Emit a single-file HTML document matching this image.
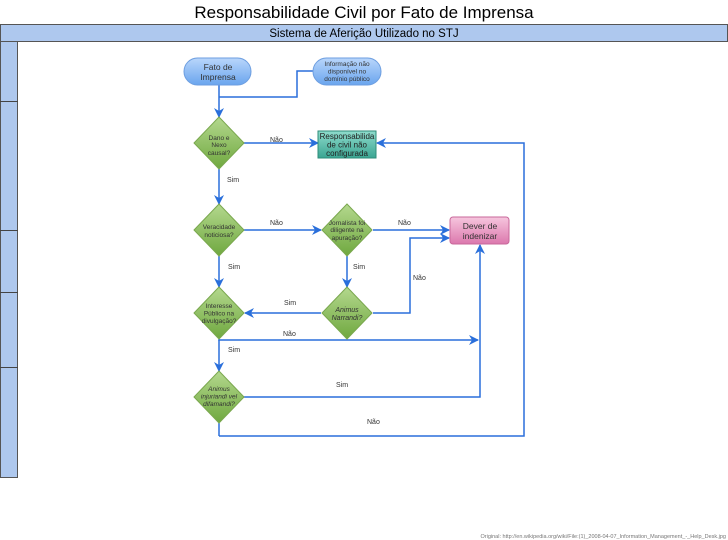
<!DOCTYPE html>
<html><head><meta charset="utf-8"><style>
html,body{margin:0;padding:0;background:#fff;}
svg{display:block;}
text{font-family:"Liberation Sans",sans-serif;}
</style></head><body>
<svg width="728" height="540" viewBox="0 0 728 540" xmlns="http://www.w3.org/2000/svg">
<defs>
<linearGradient id="gb" x1="0" y1="0" x2="0" y2="1"><stop offset="0" stop-color="#b9d6fb"/><stop offset="1" stop-color="#6aa5ee"/></linearGradient>
<linearGradient id="gg" x1="0" y1="0" x2="0" y2="1"><stop offset="0" stop-color="#b4d88e"/><stop offset="1" stop-color="#6fa83f"/></linearGradient>
<linearGradient id="gt" x1="0" y1="0" x2="0" y2="1"><stop offset="0" stop-color="#8fdccc"/><stop offset="1" stop-color="#3aa592"/></linearGradient>
<linearGradient id="gp" x1="0" y1="0" x2="0" y2="1"><stop offset="0" stop-color="#f6c6de"/><stop offset="1" stop-color="#dc78ad"/></linearGradient>
<marker id="ar" markerWidth="10" markerHeight="10" refX="9" refY="5" orient="auto" markerUnits="userSpaceOnUse"><path d="M0,0 L10,5 L0,10 L3,5 z" fill="#2a6fdb"/></marker>
</defs>
<text x="364" y="18" text-anchor="middle" font-size="17" fill="#000">Responsabilidade Civil por Fato de Imprensa</text>
<rect x="0.5" y="24.5" width="727" height="17" fill="#aec8ee" stroke="#555"/>
<text x="364" y="37" text-anchor="middle" font-size="11.5" fill="#000">Sistema de Aferição Utilizado no STJ</text>
<rect x="0.5" y="41.5" width="17" height="436" fill="#aec8ee" stroke="#555"/>
<g stroke="#444" stroke-width="1">
<line x1="0" y1="101.5" x2="18" y2="101.5"/><line x1="0" y1="230.5" x2="18" y2="230.5"/>
<line x1="0" y1="292.5" x2="18" y2="292.5"/><line x1="0" y1="367.5" x2="18" y2="367.5"/>
</g>
<g stroke="#2a6fdb" stroke-width="1.5" fill="none">
<line x1="219" y1="85" x2="219" y2="117" marker-end="url(#ar)"/>
<polyline points="313,71 297,71 297,97 219,97"/>
<line x1="243" y1="143" x2="318" y2="143" marker-end="url(#ar)"/>
<polyline points="219,436 524,436 524,143 377,143" marker-end="url(#ar)"/>
<line x1="219" y1="169" x2="219" y2="204" marker-end="url(#ar)"/>
<line x1="243" y1="230" x2="321" y2="230" marker-end="url(#ar)"/>
<line x1="373" y1="230" x2="449" y2="230" marker-end="url(#ar)"/>
<polyline points="373,313 410,313 410,238 449,238" marker-end="url(#ar)"/>
<line x1="347" y1="256" x2="347" y2="287" marker-end="url(#ar)"/>
<line x1="219" y1="256" x2="219" y2="287" marker-end="url(#ar)"/>
<line x1="321" y1="313" x2="245" y2="313" marker-end="url(#ar)"/>
<polyline points="219,339 219,340 478,340" marker-end="url(#ar)"/>
<line x1="219" y1="340" x2="219" y2="371" marker-end="url(#ar)"/>
<polyline points="243,397 480,397 480,245" marker-end="url(#ar)"/>
<line x1="219" y1="423" x2="219" y2="436"/>
</g>
<rect x="184" y="58" width="67" height="27" rx="13.5" fill="url(#gb)" stroke="#6d9ee0"/>
<text x="218" y="70" text-anchor="middle" font-size="8.5" fill="#333">Fato de</text>
<text x="218" y="80" text-anchor="middle" font-size="8.5" fill="#333">Imprensa</text>
<rect x="313" y="58" width="68" height="27" rx="13.5" fill="url(#gb)" stroke="#6d9ee0"/>
<text x="347" y="66" text-anchor="middle" font-size="6.5" fill="#333">Informação não</text>
<text x="347" y="73.5" text-anchor="middle" font-size="6.5" fill="#333">disponível no</text>
<text x="347" y="81" text-anchor="middle" font-size="6.5" fill="#333">domínio público</text>
<rect x="318" y="131" width="58" height="27" fill="url(#gt)" stroke="#2e8c7a"/>
<text x="347" y="139" text-anchor="middle" font-size="8" fill="#222">Responsabilida</text>
<text x="347" y="147.5" text-anchor="middle" font-size="8" fill="#222">de civil não</text>
<text x="347" y="156" text-anchor="middle" font-size="8" fill="#222">configurada</text>
<rect x="450" y="217" width="59" height="27" rx="3" fill="url(#gp)" stroke="#c8679a"/>
<text x="480" y="229" text-anchor="middle" font-size="8.5" fill="#333">Dever de</text>
<text x="480" y="239" text-anchor="middle" font-size="8.5" fill="#333">indenizar</text>
<g fill="url(#gg)" stroke="#7aa84e">
<polygon points="219,117 244,143 219,169 194,143"/>
<polygon points="219,204 244,230 219,256 194,230"/>
<polygon points="347,204 372,230 347,256 322,230"/>
<polygon points="219,287 244,313 219,339 194,313"/>
<polygon points="347,287 372,313 347,339 322,313"/>
<polygon points="219,371 244,397 219,423 194,397"/>
</g>
<g font-size="6.5" fill="#333" text-anchor="middle">
<text x="219" y="140">Dano e</text><text x="219" y="147">Nexo</text><text x="219" y="155">causal?</text>
<text x="219" y="229">Veracidade</text><text x="219" y="237">noticiosa?</text>
<text x="347" y="225">Jornalista foi</text><text x="347" y="232">diligente na</text><text x="347" y="240">apuração?</text>
<text x="219" y="308">Interesse</text><text x="219" y="315.5">Público na</text><text x="219" y="323">divulgação?</text>
<text x="347" y="312" font-style="italic" font-size="7">Animus</text><text x="347" y="320" font-style="italic" font-size="7">Narrandi?</text>
<text x="219" y="391" font-style="italic">Animus</text><text x="219" y="398.5" font-style="italic">injuriandi vel</text><text x="219" y="406" font-style="italic">difamandi?</text>
</g>
<g font-size="7" fill="#333">
<text x="270" y="142">Não</text><text x="227" y="182">Sim</text>
<text x="270" y="225">Não</text><text x="398" y="225">Não</text>
<text x="228" y="269">Sim</text><text x="353" y="269">Sim</text>
<text x="413" y="280">Não</text><text x="284" y="305">Sim</text>
<text x="283" y="336">Não</text><text x="228" y="352">Sim</text>
<text x="336" y="387">Sim</text><text x="367" y="424">Não</text>
</g>
<text x="726" y="538" text-anchor="end" font-size="5.5" fill="#777">Original: http://en.wikipedia.org/wiki/File:(1)_2008-04-07_Information_Management_-_Help_Desk.jpg</text>
</svg>
</body></html>
